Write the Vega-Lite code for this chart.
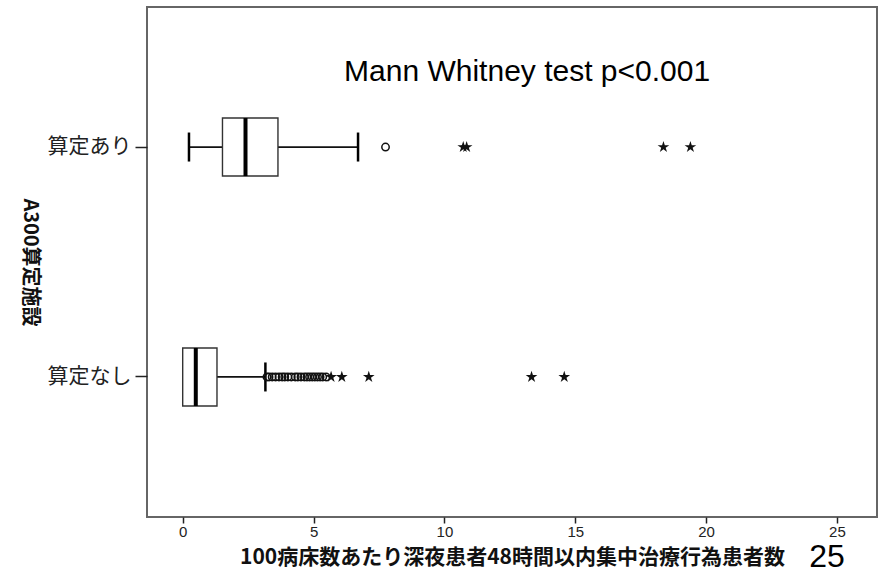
{
  "$schema": "https://vega.github.io/schema/vega-lite/v6.json",
  "width": 730,
  "height": 510,
  "autosize": {"type": "none"},
  "padding": {"left": 147, "top": 7, "right": 4, "bottom": 58},
  "background": "white",
  "config": {
    "view": {"stroke": "#666", "strokeWidth": 2},
    "axis": {"domain": false, "grid": false, "tickColor": "#222", "tickWidth": 1.5, "labelColor": "#222", "titleColor": "#111"},
    "axisX": {
      "tickSize": 6,
      "labelPadding": 1,
      "labelFont": "Liberation Sans Narrow, Liberation Sans",
      "labelFontSize": 15,
      "titleFont": "Noto Sans CJK JP",
      "titleFontSize": 21,
      "titleFontWeight": "bold",
      "titlePadding": 7
    }
  },
  "datasets": {
    "boxes": [
      {"group": "算定あり", "lo": 0.24, "q1": 1.52, "med": 2.40, "q3": 3.64, "hi": 6.70},
      {"group": "算定なし", "lo": 0.0, "q1": 0.0, "med": 0.50, "q3": 1.31, "hi": 3.16}
    ],
    "outliers": [
      {"group": "算定あり", "kind": "o", "v": 7.75},
      {"group": "算定あり", "kind": "star", "v": 10.72},
      {"group": "算定あり", "kind": "star", "v": 10.85},
      {"group": "算定あり", "kind": "star", "v": 18.37},
      {"group": "算定あり", "kind": "star", "v": 19.40},
      {"group": "算定なし", "kind": "o", "v": 3.22},
      {"group": "算定なし", "kind": "o", "v": 3.30},
      {"group": "算定なし", "kind": "o", "v": 3.42},
      {"group": "算定なし", "kind": "o", "v": 3.55},
      {"group": "算定なし", "kind": "o", "v": 3.68},
      {"group": "算定なし", "kind": "o", "v": 3.80},
      {"group": "算定なし", "kind": "o", "v": 3.90},
      {"group": "算定なし", "kind": "o", "v": 4.02},
      {"group": "算定なし", "kind": "o", "v": 4.15},
      {"group": "算定なし", "kind": "o", "v": 4.30},
      {"group": "算定なし", "kind": "o", "v": 4.40},
      {"group": "算定なし", "kind": "o", "v": 4.52},
      {"group": "算定なし", "kind": "o", "v": 4.65},
      {"group": "算定なし", "kind": "o", "v": 4.75},
      {"group": "算定なし", "kind": "o", "v": 4.85},
      {"group": "算定なし", "kind": "o", "v": 4.95},
      {"group": "算定なし", "kind": "o", "v": 5.05},
      {"group": "算定なし", "kind": "o", "v": 5.15},
      {"group": "算定なし", "kind": "o", "v": 5.25},
      {"group": "算定なし", "kind": "o", "v": 5.35},
      {"group": "算定なし", "kind": "o", "v": 5.48},
      {"group": "算定なし", "kind": "star", "v": 5.67},
      {"group": "算定なし", "kind": "star", "v": 6.08},
      {"group": "算定なし", "kind": "star", "v": 7.11},
      {"group": "算定なし", "kind": "star", "v": 13.33},
      {"group": "算定なし", "kind": "star", "v": 14.58}
    ],
    "notes": [
      {"group": "算定あり", "role": "test", "x": 13.16, "label": "Mann Whitney test p<0.001"},
      {"group": "算定なし", "role": "page", "x": 24.62, "label": "25"}
    ]
  },
  "encoding": {
    "y": {
      "field": "group",
      "type": "nominal",
      "sort": ["算定あり", "算定なし"],
      "scale": {"paddingInner": 0.748, "paddingOuter": 0.483},
      "title": "A300算定施設",
      "axis": {
        "tickSize": 12,
        "labelPadding": 4,
        "labelFont": "Noto Sans CJK JP",
        "labelFontSize": 21,
        "titleFont": "Noto Sans CJK JP",
        "titleFontSize": 20,
        "titleFontWeight": "bold",
        "titleAngle": 90,
        "titlePadding": 28
      }
    }
  },
  "layer": [
    {
      "data": {"name": "boxes"},
      "mark": {"type": "rule", "color": "#111", "strokeWidth": 1.8},
      "encoding": {
        "x": {"field": "lo", "type": "quantitative", "scale": {"domain": [-1.364, 26.53], "nice": false, "zero": false}, "title": "100病床数あたり深夜患者48時間以内集中治療行為患者数", "axis": {"values": [0, 5, 10, 15, 20, 25]}},
        "x2": {"field": "q1"}
      }
    },
    {
      "data": {"name": "boxes"},
      "mark": {"type": "rule", "color": "#111", "strokeWidth": 1.8},
      "encoding": {
        "x": {"field": "q3", "type": "quantitative", "scale": {"domain": [-1.364, 26.53], "nice": false, "zero": false}, "title": "100病床数あたり深夜患者48時間以内集中治療行為患者数", "axis": {"values": [0, 5, 10, 15, 20, 25]}},
        "x2": {"field": "hi"}
      }
    },
    {
      "data": {"name": "boxes"},
      "mark": {"type": "bar", "fill": "white", "stroke": "#333", "strokeWidth": 1.4},
      "encoding": {
        "x": {"field": "q1", "type": "quantitative", "scale": {"domain": [-1.364, 26.53], "nice": false, "zero": false}, "title": "100病床数あたり深夜患者48時間以内集中治療行為患者数", "axis": {"values": [0, 5, 10, 15, 20, 25]}},
        "x2": {"field": "q3"}
      }
    },
    {
      "data": {"name": "boxes"},
      "mark": {"type": "tick", "color": "#000", "size": 58, "thickness": 4, "opacity": 1},
      "encoding": {
        "x": {"field": "med", "type": "quantitative", "scale": {"domain": [-1.364, 26.53], "nice": false, "zero": false}, "title": "100病床数あたり深夜患者48時間以内集中治療行為患者数", "axis": {"values": [0, 5, 10, 15, 20, 25]}}
      }
    },
    {
      "data": {"name": "boxes"},
      "transform": [{"filter": "datum.lo < datum.q1"}],
      "mark": {"type": "tick", "color": "#000", "size": 29, "thickness": 2.5, "opacity": 1},
      "encoding": {
        "x": {"field": "lo", "type": "quantitative", "scale": {"domain": [-1.364, 26.53], "nice": false, "zero": false}, "title": "100病床数あたり深夜患者48時間以内集中治療行為患者数", "axis": {"values": [0, 5, 10, 15, 20, 25]}}
      }
    },
    {
      "data": {"name": "boxes"},
      "mark": {"type": "tick", "color": "#000", "size": 29, "thickness": 2.5, "opacity": 1},
      "encoding": {
        "x": {"field": "hi", "type": "quantitative", "scale": {"domain": [-1.364, 26.53], "nice": false, "zero": false}, "title": "100病床数あたり深夜患者48時間以内集中治療行為患者数", "axis": {"values": [0, 5, 10, 15, 20, 25]}}
      }
    },
    {
      "data": {"name": "outliers"},
      "transform": [{"filter": "datum.kind === 'o'"}],
      "mark": {"type": "point", "shape": "circle", "filled": false, "stroke": "#111", "strokeWidth": 1.5, "size": 55, "opacity": 1},
      "encoding": {
        "x": {"field": "v", "type": "quantitative", "scale": {"domain": [-1.364, 26.53], "nice": false, "zero": false}, "title": "100病床数あたり深夜患者48時間以内集中治療行為患者数", "axis": {"values": [0, 5, 10, 15, 20, 25]}}
      }
    },
    {
      "data": {"name": "outliers"},
      "transform": [{"filter": "datum.kind === 'star'"}],
      "mark": {"type": "point", "shape": "M0,-1L0.223,-0.307L0.951,-0.309L0.361,0.117L0.588,0.809L0,0.38L-0.588,0.809L-0.361,0.117L-0.951,-0.309L-0.223,-0.307Z", "filled": true, "fill": "#111", "strokeWidth": 0, "size": 150, "opacity": 1},
      "encoding": {
        "x": {"field": "v", "type": "quantitative", "scale": {"domain": [-1.364, 26.53], "nice": false, "zero": false}, "title": "100病床数あたり深夜患者48時間以内集中治療行為患者数", "axis": {"values": [0, 5, 10, 15, 20, 25]}}
      }
    },
    {
      "data": {"name": "notes"},
      "transform": [{"filter": "datum.role === 'test'"}],
      "mark": {"type": "text", "font": "Liberation Sans", "fontSize": 30, "color": "#000", "align": "center", "baseline": "alphabetic", "dy": -66},
      "encoding": {
        "x": {"field": "x", "type": "quantitative", "scale": {"domain": [-1.364, 26.53], "nice": false, "zero": false}, "title": "100病床数あたり深夜患者48時間以内集中治療行為患者数", "axis": {"values": [0, 5, 10, 15, 20, 25]}},
        "text": {"field": "label"}
      }
    },
    {
      "data": {"name": "notes"},
      "transform": [{"filter": "datum.role === 'page'"}],
      "mark": {"type": "text", "font": "Liberation Sans", "fontSize": 32, "color": "#000", "align": "center", "baseline": "alphabetic", "dy": 190},
      "encoding": {
        "x": {"field": "x", "type": "quantitative", "scale": {"domain": [-1.364, 26.53], "nice": false, "zero": false}, "title": "100病床数あたり深夜患者48時間以内集中治療行為患者数", "axis": {"values": [0, 5, 10, 15, 20, 25]}},
        "text": {"field": "label"}
      }
    }
  ]
}
